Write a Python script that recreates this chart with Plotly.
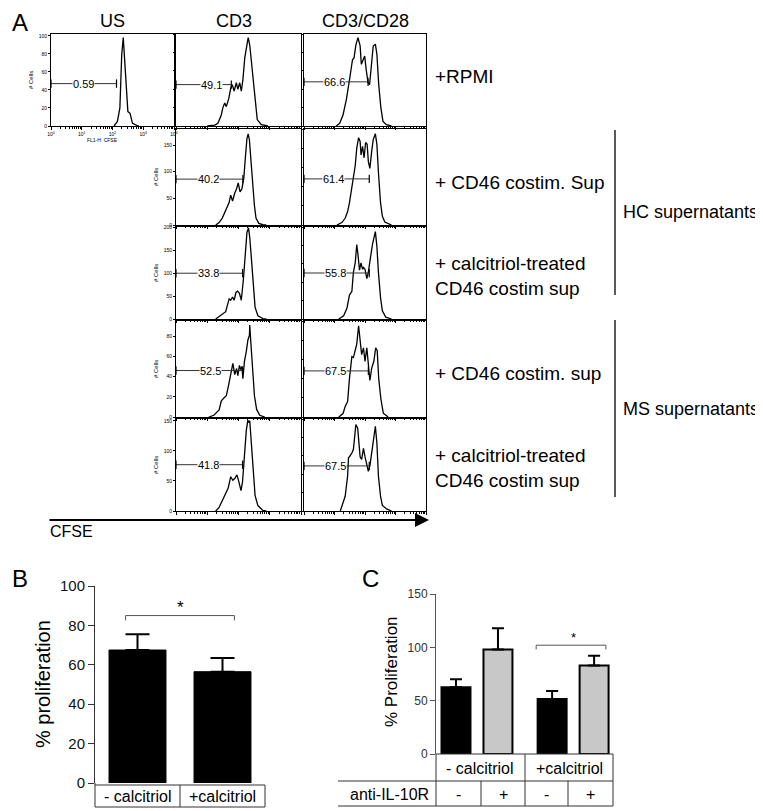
import math
import plotly.graph_objects as go

W, H = 763, 811
FONT = "Liberation Sans, Arial, Helvetica, sans-serif"

# ---------------- Panel A: CFSE histograms (x in decades of FL1-H, y in # cells) ----------------
us_rpmi_x = [2.05, 2.16, 2.24, 2.30, 2.35, 2.43, 2.50, 2.57, 2.65, 2.80, 2.86]
us_rpmi_y = [0, 5, 20, 79, 98, 57, 16, 14, 3, 0.5, 0]

cd3_rpmi_x = [1.00, 1.24, 1.34, 1.45, 1.50, 1.56, 1.61, 1.69, 1.75, 1.80, 1.86, 1.93, 1.98,
              2.04, 2.09, 2.14, 2.20, 2.27, 2.31, 2.36, 2.43, 2.50, 2.54, 2.60, 2.73, 2.94]
cd3_rpmi_y = [0, 1, 3, 12, 20, 25, 21, 30, 41, 45, 38, 47, 40, 47, 38, 50, 74, 90, 96, 88, 63,
              38, 20, 7, 1.5, 0]

cd28_rpmi_x = [1.06, 1.17, 1.28, 1.39, 1.50, 1.59, 1.64, 1.70, 1.77, 1.84, 1.88, 1.93, 1.99,
               2.04, 2.10, 2.15, 2.20, 2.27, 2.34, 2.39, 2.45, 2.52, 2.59, 2.70, 2.87]
cd28_rpmi_y = [0, 3, 12, 29, 52, 72, 74, 88, 96, 87, 67, 71, 76, 61, 47, 45, 67, 87, 89, 78,
               45, 20, 5, 1.5, 0]

cd3_hc_x = [1.27, 1.38, 1.48, 1.59, 1.70, 1.75, 1.81, 1.88, 1.94, 1.99, 2.05, 2.11, 2.17, 2.22,
            2.27, 2.31, 2.35, 2.40, 2.45, 2.51, 2.56, 2.65, 2.78, 2.89]
cd3_hc_y = [0, 4.5, 13, 28, 42, 56, 45, 60, 68, 79, 62, 68, 88, 127, 162, 171, 159, 120, 75, 36,
            13, 3, 0.5, 0]

cd28_hc_x = [1.08, 1.24, 1.35, 1.43, 1.49, 1.57, 1.62, 1.68, 1.73, 1.79, 1.84, 1.87, 1.92, 1.97,
             2.02, 2.07, 2.11, 2.16, 2.22, 2.27, 2.34, 2.39, 2.44, 2.51, 2.57, 2.65, 2.87]
cd28_hc_y = [0, 2.5, 7, 14, 23, 39, 48, 62, 80, 91, 87, 73, 82, 70, 86, 84, 66, 59, 77, 89, 95,
             84, 55, 23, 9, 3, 0]

cd3_hccal_x = [1.27, 1.43, 1.59, 1.70, 1.75, 1.81, 1.86, 1.92, 1.97, 2.03, 2.09, 2.16, 2.22,
               2.27, 2.32, 2.36, 2.42, 2.48, 2.53, 2.62, 2.78, 2.89]
cd3_hccal_y = [0, 9, 16, 44, 41, 48, 41, 58, 61, 56, 41, 89, 148, 189, 199, 178, 126, 67, 26, 7,
               1, 0]

cd28_hccal_x = [1.14, 1.30, 1.41, 1.49, 1.57, 1.62, 1.68, 1.73, 1.77, 1.82, 1.87, 1.92, 1.95,
                2.00, 2.06, 2.11, 2.18, 2.25, 2.34, 2.39, 2.44, 2.51, 2.57, 2.68, 2.87]
cd28_hccal_y = [0, 3.5, 12, 26, 30, 51, 61, 81, 70, 53, 61, 54, 56, 54, 44, 51, 67, 82, 95, 79,
                51, 23, 9, 2, 0]

cd3_ms_x = [1.05, 1.21, 1.38, 1.45, 1.54, 1.61, 1.68, 1.75, 1.82, 1.88, 1.94, 1.98, 2.03, 2.07,
            2.11, 2.14, 2.19, 2.25, 2.30, 2.35, 2.36, 2.39, 2.45, 2.51, 2.58, 2.68, 2.84]
cd3_ms_y = [0, 1.7, 7, 16, 19, 21, 31, 43, 53, 42, 48, 41, 51, 47, 50, 38, 55, 65, 76, 81, 91,
            76, 48, 21, 7.5, 1.7, 0]

cd28_ms_x = [1.14, 1.28, 1.35, 1.43, 1.49, 1.57, 1.62, 1.68, 1.73, 1.79, 1.84, 1.89, 1.95, 2.00,
             2.06, 2.11, 2.16, 2.22, 2.29, 2.35, 2.40, 2.45, 2.52, 2.60, 2.76]
cd28_ms_y = [0, 3.6, 11, 16, 40, 63, 62, 69, 76, 95, 76, 65, 72, 58, 72, 58, 38, 51, 58, 72, 69,
             40, 19, 4, 0]

cd3_mscal_x = [1.27, 1.38, 1.48, 1.59, 1.67, 1.75, 1.82, 1.88, 1.95, 2.00, 2.08, 2.13, 2.19,
               2.25, 2.30, 2.33, 2.36, 2.40, 2.47, 2.53, 2.62, 2.78, 2.89]
cd3_mscal_y = [0, 6, 17, 31, 38, 57, 51, 54, 60, 51, 34, 49, 94, 134, 151, 147, 150, 117, 66, 26,
               9, 1, 0]

cd28_mscal_x = [1.19, 1.35, 1.43, 1.46, 1.49, 1.57, 1.62, 1.70, 1.76, 1.84, 1.89, 1.95, 2.00,
                2.06, 2.11, 2.16, 2.22, 2.27, 2.34, 2.39, 2.44, 2.51, 2.57, 2.72, 2.87]
cd28_mscal_y = [0, 16, 38, 58, 59, 63, 67, 94, 90, 59, 56, 68, 59, 49, 43, 49, 63, 74, 92, 74,
                38, 16, 6, 2, 0]

# gate: [end (decades), level (# cells), label position (decades)], and gate % values
gate_us_rpmi = [2.13, 47, 1.06]
gate_cd3_rpmi = [1.77, 45, 1.13]
gate_cd28_rpmi = [2.10, 48, 1.00]
gate_cd3_hc = [2.14, 86, 1.05]
gate_cd28_hc = [2.14, 48, 0.97]
gate_cd3_hccal = [2.13, 100, 1.05]
gate_cd28_hccal = [2.14, 50, 1.03]
gate_cd3_ms = [2.13, 46, 1.11]
gate_cd28_ms = [2.11, 48, 1.03]
gate_cd3_mscal = [2.13, 77, 1.05]
gate_cd28_mscal = [2.14, 49, 1.03]
gate_percent = ["0.59", "49.1", "66.6", "40.2", "61.4", "33.8", "55.8", "52.5", "67.5",
                "41.8", "67.5"]

column_labels = ["US", "CD3", "CD3/CD28"]
condition_labels = ["+RPMI", "+ CD46 costim. Sup", "+ calcitriol-treated<br>CD46 costim sup",
                    "+ CD46 costim. sup", "+ calcitriol-treated<br>CD46 costim sup"]
group_labels = ["HC supernatants", "MS supernatants"]
decade_ticks = ["10<sup>0</sup>", "10<sup>1</sup>", "10<sup>2</sup>", "10<sup>3</sup>", "10<sup>4</sup>"]

# ---------------- Panel B ----------------
b_categories = ["- calcitriol", "+calcitriol"]
b_values = [67.5, 56.5]
b_errors = [8.0, 7.0]
b_bracket_y = 85
b_ticks = [0, 20, 40, 60, 80, 100]

# ---------------- Panel C ----------------
c_groups = ["- calcitriol", "+calcitriol"]
c_anti = ["-", "+", "-", "+"]
c_values = [62.5, 98.0, 51.5, 83.0]
c_errors = [7.5, 20.0, 7.5, 9.0]
c_bracket_y = 102
c_ticks = [0, 50, 100, 150]


def X(p):
    return p / W


def Y(p):
    return 1 - p / H


annotations = []
shapes = []


def ann(text, x, y, size, xref="paper", yref="paper", xanchor="center", yanchor="middle",
        **kw):
    d = dict(text=text, x=x, y=y, xref=xref, yref=yref, xanchor=xanchor, yanchor=yanchor,
             showarrow=False, font=dict(size=size, family=FONT, color=kw.pop("color", "black")))
    d.update(kw)
    annotations.append(d)


def seg(x0, y0, x1, y1, color="#333", width=1):
    shapes.append(dict(type="line", xref="paper", yref="paper", x0=X(x0), y0=Y(y0),
                       x1=X(x1), y1=Y(y1), line=dict(color=color, width=width)))


fig = go.Figure()
layout = dict(width=W, height=H, margin=dict(l=0, r=0, t=0, b=0, pad=0, autoexpand=False),
              paper_bgcolor="white", plot_bgcolor="white", showlegend=False,
              font=dict(family=FONT, color="black"))

col_px = {"US": (43, 166), "CD3": (168, 293), "CD28": (296, 418)}
row_px = [(26, 118), (121, 217), (219, 311), (313, 409), (411, 503)]
minor_x = [k + math.log10(m) for k in range(4) for m in range(2, 10)]

panels = [
    ("US", 0, us_rpmi_x, us_rpmi_y, 102, [0, 20, 40, 60, 80, 100], gate_us_rpmi, True),
    ("CD3", 0, cd3_rpmi_x, cd3_rpmi_y, 100, [0, 20, 40, 60, 80, 100], gate_cd3_rpmi, False),
    ("CD28", 0, cd28_rpmi_x, cd28_rpmi_y, 100, [0, 20, 40, 60, 80, 100], gate_cd28_rpmi, False),
    ("CD3", 1, cd3_hc_x, cd3_hc_y, 180, [0, 50, 100, 150], gate_cd3_hc, True),
    ("CD28", 1, cd28_hc_x, cd28_hc_y, 100, [0, 20, 40, 60, 80, 100], gate_cd28_hc, False),
    ("CD3", 2, cd3_hccal_x, cd3_hccal_y, 201, [0, 50, 100, 150, 200], gate_cd3_hccal, True),
    ("CD28", 2, cd28_hccal_x, cd28_hccal_y, 100, [0, 20, 40, 60, 80, 100], gate_cd28_hccal, False),
    ("CD3", 3, cd3_ms_x, cd3_ms_y, 95, [0, 20, 40, 60, 80], gate_cd3_ms, True),
    ("CD28", 3, cd28_ms_x, cd28_ms_y, 100, [0, 20, 40, 60, 80, 100], gate_cd28_ms, False),
    ("CD3", 4, cd3_mscal_x, cd3_mscal_y, 153, [0, 50, 100, 150], gate_cd3_mscal, True),
    ("CD28", 4, cd28_mscal_x, cd28_mscal_y, 100, [0, 20, 40, 60, 80, 100], gate_cd28_mscal, False),
]

for i, (col, row, xs, ys, ymax, yt, gate, ylabels) in enumerate(panels):
    n = i + 1
    sfx = "" if n == 1 else str(n)
    xa, ya = "x" + sfx, "y" + sfx
    x0, x1 = col_px[col]
    y0, y1 = row_px[row]
    is_us = col == "US"
    layout["xaxis" + sfx] = dict(
        domain=[X(x0), X(x1)], anchor=ya, range=[0, 4], showgrid=False, zeroline=False,
        showline=True, mirror=True, linecolor="black", linewidth=1, automargin=False,
        tickmode="array", tickvals=[0, 1, 2, 3, 4], ticktext=decade_ticks,
        ticks="outside", ticklen=3, tickwidth=1, tickcolor="black",
        showticklabels=is_us, tickfont=dict(size=5),
        minor=dict(tickmode="array", tickvals=minor_x, ticks="outside", ticklen=2,
                   tickcolor="black", tickwidth=0.7),
        fixedrange=True)
    layout["yaxis" + sfx] = dict(
        domain=[Y(y1), Y(y0)], anchor=xa, range=[0, ymax], showgrid=False, zeroline=False,
        showline=True, mirror=True, linecolor="black", linewidth=1, automargin=False,
        tickmode="array", tickvals=yt, ticks="outside", ticklen=2, tickcolor="black",
        showticklabels=ylabels, tickfont=dict(size=5),
        fixedrange=True)
    fig.add_trace(go.Scatter(x=xs, y=ys, xaxis=xa, yaxis=ya, mode="lines",
                             line=dict(color="black", width=1.3), hoverinfo="skip"))
    g_end, g_lvl, g_lab = gate
    fig.add_trace(go.Scatter(x=[0, g_end], y=[g_lvl, g_lvl], xaxis=xa, yaxis=ya,
                             mode="lines+markers", cliponaxis=False,
                             line=dict(color="#333", width=1),
                             marker=dict(symbol="line-ns", size=6, color="black",
                                         line=dict(width=1.2, color="black")),
                             hoverinfo="skip"))
    ann(gate_percent[i], g_lab, g_lvl, 11, xref=xa, yref=ya, bgcolor="white", borderpad=0)
    if ylabels:
        ann("# Cells", X(x0 - 20), Y((y0 + y1) / 2), 6, textangle=-90)
    if is_us:
        ann("FL1-H: CFSE", X((x0 + x1) / 2 - 10), Y(y1 + 14), 5)

# header labels
for lab, cx in zip(column_labels, [104, 226, 357]):
    ann(lab, X(cx), Y(13), 18)

# condition labels on the right
for lab, cy in zip(condition_labels, [69, 174, 268, 366, 460]):
    ann(lab, X(425), Y(cy), 19, xanchor="left", align="left")
for lab, (ya_, yb_) in zip(group_labels, [(122, 287), (312, 489)]):
    seg(607, ya_, 607, yb_, color="black", width=1.3)
    ann(lab, X(613), Y((ya_ + yb_) / 2), 18, xanchor="left")

# CFSE arrow
annotations.append(dict(x=X(421), y=Y(512), xref="paper", yref="paper", ax=-381, ay=0,
                        axref="pixel", ayref="pixel", text="", showarrow=True,
                        arrowhead=2, arrowsize=1.4, arrowwidth=2, arrowcolor="black"))
ann("CFSE", X(40), Y(523), 16, xanchor="left")

# panel letters
for lab, cx, cy in [("A", 12, 15), ("B", 12, 570), ("C", 362, 570)]:
    ann(lab, X(cx), Y(cy), 24)

# ---------------- Panel B ----------------
b_x = list(range(len(b_values)))
fig.add_trace(go.Bar(x=b_x, y=b_values, xaxis="x12", yaxis="y12", width=0.67,
                     marker=dict(color="black", line=dict(color="black", width=1)),
                     error_y=dict(type="data", array=b_errors, arrayminus=[0] * len(b_errors),
                                  symmetric=False, color="black", thickness=2, width=12),
                     hoverinfo="skip"))
layout["xaxis12"] = dict(domain=[X(87), X(257)], anchor="y12", range=[-0.5, 1.5],
                         visible=False, fixedrange=True, automargin=False)
layout["yaxis12"] = dict(domain=[Y(775), Y(578)], anchor="x12", range=[0, 100],
                         tickvals=b_ticks, ticks="outside", ticklen=6, tickwidth=1,
                         tickcolor="#333", showline=True, linecolor="#333", linewidth=1,
                         showgrid=False, zeroline=False, tickfont=dict(size=15, color="#111"),
                         fixedrange=True, automargin=False)
fig.add_trace(go.Scatter(x=[b_x[0] - 0.14, b_x[0] - 0.14, b_x[1] + 0.14, b_x[1] + 0.14],
                         y=[b_bracket_y - 2.5, b_bracket_y, b_bracket_y, b_bracket_y - 2.5],
                         xaxis="x12", yaxis="y12", mode="lines",
                         line=dict(color="#555", width=1), hoverinfo="skip"))
ann("*", (b_x[0] + b_x[1]) / 2, b_bracket_y, 17, xref="x12", yref="y12", yshift=8)
ann("% proliferation", X(35), Y(676), 20, textangle=-90)
for s in [(87, 777, 257, 777), (87, 799, 257, 799), (87, 775, 87, 799),
          (172, 777, 172, 799), (257, 777, 257, 799)]:
    seg(*s)
for lab, cx in zip(b_categories, [129.5, 214.5]):
    ann(lab, X(cx), Y(788), 16)

# ---------------- Panel C ----------------
c_pos = []
for gi in range(len(c_groups)):
    for k in range(2):
        c_pos.append(gi * 2.29 + k)
c_colors = ["black" if a == "-" else "#c8c8c8" for a in c_anti]
fig.add_trace(go.Bar(x=c_pos, y=c_values, xaxis="x13", yaxis="y13", width=0.69,
                     marker=dict(color=c_colors, line=dict(color="black", width=2)),
                     error_y=dict(type="data", array=c_errors, arrayminus=[0] * len(c_errors),
                                  symmetric=False, color="black", thickness=2, width=6),
                     hoverinfo="skip"))
layout["xaxis13"] = dict(domain=[X(428), X(605)], anchor="y13", range=[-0.476, 3.74],
                         visible=False, fixedrange=True, automargin=False)
layout["yaxis13"] = dict(domain=[Y(746), Y(586)], anchor="x13", range=[0, 150],
                         tickvals=c_ticks, ticks="outside", ticklen=5, tickwidth=1,
                         tickcolor="#555", showline=True, linecolor="#555", linewidth=1,
                         showgrid=False, zeroline=False, tickfont=dict(size=12, color="#333"),
                         fixedrange=True, automargin=False)
fig.add_trace(go.Scatter(x=[c_pos[2] - 0.38, c_pos[2] - 0.38, c_pos[3] + 0.28, c_pos[3] + 0.28],
                         y=[c_bracket_y - 4, c_bracket_y, c_bracket_y, c_bracket_y - 4],
                         xaxis="x13", yaxis="y13", mode="lines",
                         line=dict(color="#555", width=1), hoverinfo="skip"))
ann("*", (c_pos[2] + c_pos[3]) / 2, c_bracket_y, 13, xref="x13", yref="y13", yshift=8)
ann("% Proliferation", X(383), Y(664), 17, textangle=-90)
for s in [(428, 746, 605, 746), (330, 773, 605, 773), (330, 798, 605, 798),
          (428, 746, 428, 798), (517, 746, 517, 798), (605, 746, 605, 798),
          (473, 773, 473, 798), (560, 773, 560, 798)]:
    seg(*s)
for lab, cx in zip(c_groups, [472.5, 561]):
    ann(lab, X(cx), Y(760), 16)
ann("anti-IL-10R", X(340), Y(786), 16, xanchor="left")
for lab, cx in zip(c_anti, [450.5, 495, 538.5, 582.5]):
    ann(lab, X(cx), Y(786), 16)

layout["annotations"] = annotations
layout["shapes"] = shapes
fig.update_layout(**layout)
fig.write_html("out.html")
